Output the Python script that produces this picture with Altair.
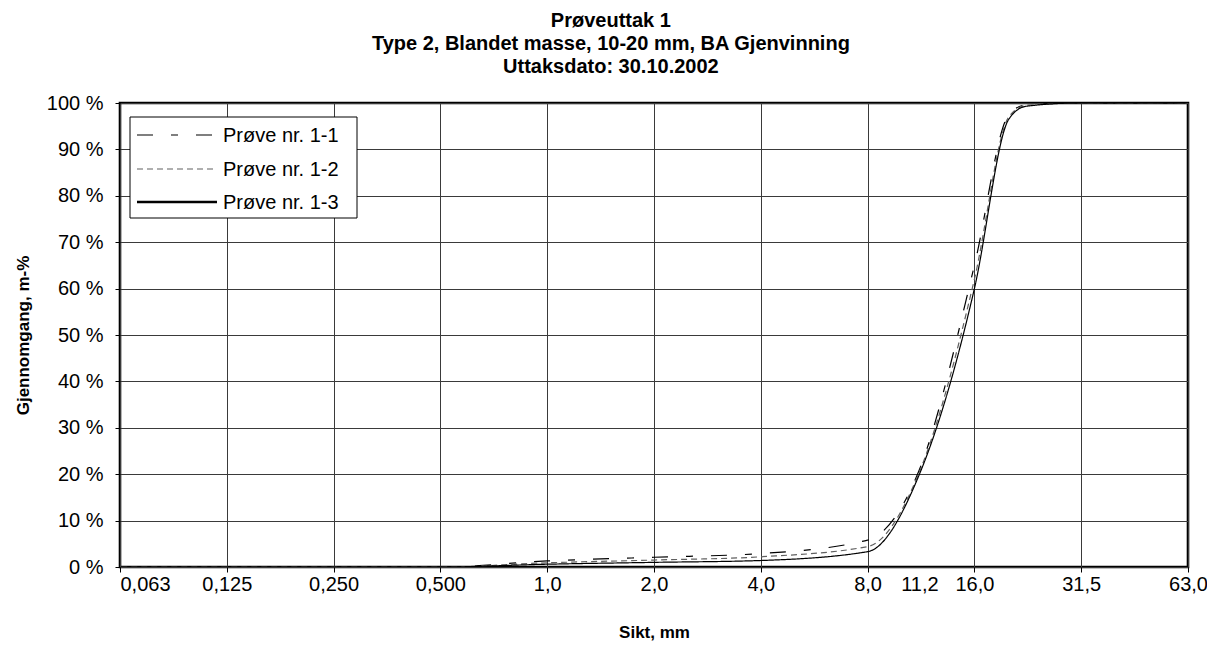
import altair as alt
import pandas as pd

# ---------------- data ----------------
title_lines = [
    "Prøveuttak 1",
    "Type 2, Blandet masse, 10-20 mm, BA Gjenvinning",
    "Uttaksdato: 30.10.2002",
]
x_title = "Sikt, mm"
y_title = "Gjennomgang, m-%"

series_names = ["Prøve nr. 1-1", "Prøve nr. 1-2", "Prøve nr. 1-3"]
sieves = [0.063, 0.125, 0.25, 0.5, 1.0, 2.0, 4.0, 8.0, 11.2, 16.0, 20.0, 22.4, 31.5, 63.0]
pass_1_1 = [0, 0, 0, 0, 1.3, 2.1, 2.9, 5.8, 21.0, 65.0, 97.5, 99.6, 100, 100]
pass_1_2 = [0, 0, 0, 0, 0.9, 1.5, 2.2, 4.4, 20.5, 62.0, 97.0, 99.5, 100, 100]
pass_1_3 = [0, 0, 0, 0, 0.6, 1.0, 1.4, 3.3, 20.0, 60.0, 96.5, 99.3, 100, 100]

x_tick_values = [0.0625, 0.125, 0.25, 0.5, 1, 2, 4, 8, 11.2, 16, 32, 64]
x_tick_labels = ["0,063", "0,125", "0,250", "0,500", "1,0", "2,0", "4,0", "8,0",
                 "11,2", "16,0", "31,5", "63,0"]
y_tick_values = [0, 10, 20, 30, 40, 50, 60, 70, 80, 90, 100]

# ---------------- styling ----------------
FONT = "Liberation Sans"
series_colors = ["#000000", "#606060", "#000000"]
series_dash = [[16, 18, 7, 18], [6, 4], [1, 0]]
series_width = [1.2, 1.2, 2.6]

W, H = 1068, 464

rows = []
for name, vals in zip(series_names, [pass_1_1, pass_1_2, pass_1_3]):
    for s, v in zip(sieves, vals):
        rows.append({"serie": name, "sikt": s, "gjennomgang": v})
df = pd.DataFrame(rows)

label_expr = " : ".join(
    f"datum.value == {v} ? '{l}'" for v, l in zip(x_tick_values, x_tick_labels)
) + " : ''"

x_axis = alt.Axis(
    values=x_tick_values,
    labelExpr=label_expr,
    grid=True,
    gridColor="#3a3a3a",
    gridWidth=1,
    gridOpacity={"condition": {"test": "datum.value == 11.2", "value": 0}, "value": 1},
    tickOpacity={"condition": {"test": "datum.value == 11.2", "value": 0}, "value": 1},
    labelAlign={"condition": {"test": "datum.value < 0.07", "value": "left"}, "value": "center"},
    ticks=True,
    tickSize=5,
    tickColor="black",
    domain=False,
    labelPadding=2,
    labelFlush=False,
    labelOverlap=False,
    labelFont=FONT,
    labelFontSize=20,
    labelColor="black",
    title=x_title,
    titleFont=FONT,
    titleFontSize=17,
    titleFontWeight="bold",
    titleColor="black",
    titlePadding=30,
)

y_axis = alt.Axis(
    values=y_tick_values,
    labelExpr="datum.value + ' %'",
    grid=True,
    gridColor="#3a3a3a",
    gridWidth=1,
    ticks=True,
    tickSize=5,
    tickColor="black",
    domain=False,
    labelPadding=12,
    labelFont=FONT,
    labelFontSize=20,
    labelColor="black",
    title=y_title,
    titleFont=FONT,
    titleFontSize=17,
    titleFontWeight="bold",
    titleColor="black",
    titlePadding=14,
)

lines = alt.Chart(df).mark_line(interpolate="monotone", clip=True).encode(
    x=alt.X("sikt:Q", scale=alt.Scale(type="log", base=2, domain=[0.0625, 64], nice=False), axis=x_axis),
    y=alt.Y("gjennomgang:Q", scale=alt.Scale(domain=[0, 100], nice=False), axis=y_axis),
    color=alt.Color("serie:N", scale=alt.Scale(domain=series_names, range=series_colors), legend=None),
    strokeDash=alt.StrokeDash("serie:N", scale=alt.Scale(domain=series_names, range=series_dash), legend=None),
    strokeWidth=alt.StrokeWidth("serie:N", scale=alt.Scale(domain=series_names, range=series_width), legend=None),
    order=alt.Order("sikt:Q"),
)

# ---------------- manual legend ----------------
one = pd.DataFrame({"k": [0]})
legend_box = alt.Chart(one).mark_rect(fill="white", stroke="black", strokeWidth=1).encode(
    x=alt.value(10), x2=alt.value(237), y=alt.value(14), y2=alt.value(115)
)
legend_layers = [legend_box]
row_y = [32, 66, 99]
for i, name in enumerate(series_names):
    d = pd.DataFrame({"serie": [name]})
    legend_layers.append(
        alt.Chart(d).mark_rule(
            color=series_colors[i], strokeDash=series_dash[i], strokeWidth=series_width[i]
        ).encode(x=alt.value(17), x2=alt.value(97), y=alt.value(row_y[i]))
    )
    legend_layers.append(
        alt.Chart(d).mark_text(
            align="left", baseline="middle", font=FONT, fontSize=20, color="black"
        ).encode(x=alt.value(103), y=alt.value(row_y[i] + 1), text="serie:N")
    )

chart = alt.layer(lines, *legend_layers).properties(
    width=W,
    height=H,
    background="white",
    title=alt.TitleParams(
        text=title_lines,
        font=FONT,
        fontSize=20,
        fontWeight="bold",
        lineHeight=23,
        anchor="middle",
        frame="bounds",
        offset=16,
        color="black",
    ),
    autosize=alt.AutoSizeParams(type="none"),
    padding={"left": 112, "top": 95, "right": 19, "bottom": 75},
).configure_view(
    stroke="black", strokeWidth=2.6
)

chart.save("out.html", embed_options={"renderer": "svg", "actions": False})
